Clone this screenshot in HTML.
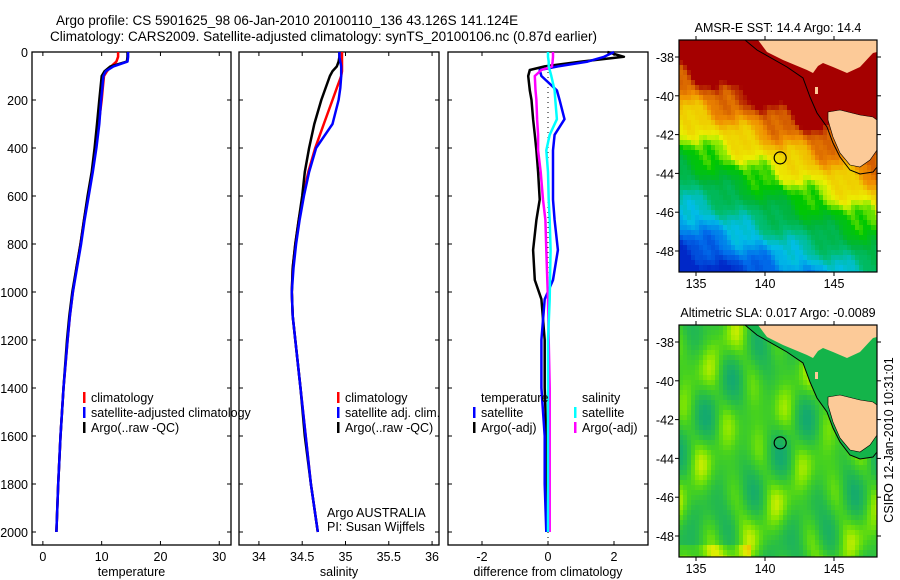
<!DOCTYPE html>
<html><head><meta charset="utf-8"><style>
html,body{margin:0;padding:0;background:#fff;}
svg{display:block;font-family:"Liberation Sans",sans-serif;}
</style></head><body>
<svg id="fig" width="900" height="580" viewBox="0 0 900 580" xmlns="http://www.w3.org/2000/svg">
<text x="56" y="25" font-size="13.5">Argo profile: CS 5901625_98 06-Jan-2010 20100110_136 43.126S 141.124E</text>
<text x="50" y="41" font-size="13.5">Climatology: CARS2009. Satellite-adjusted climatology: synTS_20100106.nc (0.87d earlier)</text>
<g id="plots"></g>
<g id="maps"></g>
<text transform="translate(893,440) rotate(-90)" text-anchor="middle" font-size="12.5">CSIRO 12-Jan-2010 10:31:01</text>
</svg>
<script>
// ---- data ----
const depths = [0,20,40,60,80,100,150,200,300,400,500,600,700,800,900,1000,1100,1200,1400,1600,1800,2000];
const tempArgo = [14.4,14.4,14.3,11.5,10.5,10.0,9.8,9.6,9.2,8.8,8.3,7.6,7.0,6.4,5.7,5.0,4.5,4.1,3.5,3.0,2.6,2.3];
const tempSat  = [14.5,14.5,14.4,12.0,10.7,10.3,10.1,9.9,9.6,9.1,8.5,7.8,7.1,6.5,5.8,5.1,4.6,4.2,3.5,3.0,2.6,2.3];
const tempClim = [12.8,12.8,12.5,11.6,10.9,10.4,10.2,10.0,9.5,9.0,8.4,7.7,7.0,6.4,5.7,5.1,4.6,4.2,3.5,3.0,2.6,2.3];
const salArgo = [34.93,34.93,34.92,34.9,34.85,34.82,34.77,34.72,34.64,34.58,34.53,34.5,34.46,34.42,34.39,34.38,34.39,34.42,34.48,34.53,34.6,34.68];
const salSat  = [34.93,34.93,34.94,34.95,34.95,34.95,34.94,34.92,34.85,34.66,34.58,34.52,34.47,34.43,34.4,34.38,34.39,34.42,34.48,34.54,34.6,34.68];
const salClim = [34.96,34.96,34.96,34.96,34.96,34.95,34.9,34.85,34.75,34.65,34.57,34.51,34.46,34.42,34.39,34.38,34.39,34.42,34.48,34.54,34.6,34.68];
const dDepths = [0,20,40,60,75,100,160,200,280,345,410,500,615,700,825,950,1030,1200,1400,1600,1800,2000];
const dTempSat  = [2.0,1.7,1.2,0.3,-0.25,-0.2,0.27,0.35,0.5,0.2,0.15,0.15,0.15,0.2,0.3,0.15,-0.1,-0.2,-0.2,-0.1,-0.1,-0.05];
const dTempArgo = [1.8,2.3,1.0,-0.1,-0.55,-0.6,-0.55,-0.5,-0.45,-0.4,-0.35,-0.3,-0.25,-0.35,-0.45,-0.4,-0.2,-0.1,-0.1,-0.05,-0.05,0.0];
const dSalSat   = [0.0,0.0,0.02,0.02,0.05,0.1,0.2,0.22,0.27,0.05,-0.05,0.0,0.02,0.05,0.08,0.06,0.05,0.0,0.0,0.0,0.0,0.0];
const dSalArgo  = [0.15,0.15,0.14,0.12,-0.2,-0.4,-0.38,-0.35,-0.33,-0.3,-0.3,-0.22,-0.15,-0.08,-0.05,-0.02,0.0,0.02,0.05,0.05,0.05,0.05];
const depthTicks = [0,200,400,600,800,1000,1200,1400,1600,1800,2000];
const tempTicks = [0,10,20,30];
const salTicks = [34,34.5,35,35.5,36];
const diffTicks = [-2,0,2];

const NS="http://www.w3.org/2000/svg";
function mk(tag,attrs,parent){const e=document.createElementNS(NS,tag);for(const k in attrs)e.setAttribute(k,attrs[k]);parent.appendChild(e);return e;}
const plots=document.getElementById('plots');
const yTop=52, yBot=545;
const y=d=>52+d*0.24;

const panels=[
 {name:'temperature-panel',x0:32,x1:231,vmin:-1.85,vmax:32.0,ticks:tempTicks,label:'temperature'},
 {name:'salinity-panel',x0:239,x1:439,vmin:33.77,vmax:36.08,ticks:salTicks,label:'salinity'},
 {name:'difference-panel',x0:448,x1:648,vmin:-3.03,vmax:3.03,ticks:diffTicks,label:'difference from climatology'}
];
panels.forEach((p,i)=>{
  p.sx=v=>p.x0+(v-p.vmin)/(p.vmax-p.vmin)*(p.x1-p.x0);
  const g=mk('g',{},plots);
  
  
  const r=mk('rect',{x:p.x0,y:yTop,width:p.x1-p.x0,height:yBot-yTop,fill:'none',stroke:'#000','stroke-width':1.3},g);
  
  
  depthTicks.forEach(d=>{
    mk('line',{x1:p.x0,x2:p.x0+4,y1:y(d),y2:y(d),stroke:'#000'},g);
    mk('line',{x1:p.x1-4,x2:p.x1,y1:y(d),y2:y(d),stroke:'#000'},g);
    if(i===0){const t=mk('text',{x:28,y:y(d)+5,'font-size':12.5,'text-anchor':'end'},g);t.textContent=d;
      
      }
  });
  p.ticks.forEach(v=>{
    const x=p.sx(v);
    mk('line',{x1:x,x2:x,y1:yBot-4,y2:yBot,stroke:'#000'},g);
    mk('line',{x1:x,x2:x,y1:yTop,y2:yTop+4,stroke:'#000'},g);
    const t=mk('text',{x:x,y:561,'font-size':12.5,'text-anchor':'middle'},g);t.textContent=v;
    
    
  });
  const xl=mk('text',{x:(p.x0+p.x1)/2,y:576,'font-size':12.5,'text-anchor':'middle'},g);xl.textContent=p.label;
  
  
});
function line(p,ds,vals,color,name,w){
  const pts=ds.map((d,k)=>p.sx(vals[k]).toFixed(1)+','+y(d).toFixed(1)).join(' ');
  const l=mk('polyline',{points:pts,fill:'none',stroke:color,'stroke-width':w||2.5,'stroke-linejoin':'round'},plots);
  
  
}
const [P1,P2,P3]=panels;
line(P1,depths,tempClim,'#f00','temp-climatology-line');
line(P1,depths,tempArgo,'#000','temp-argo-line');
line(P1,depths,tempSat,'#00f','temp-satellite-line');
line(P2,depths,salClim,'#f00','sal-climatology-line');
line(P2,depths,salArgo,'#000','sal-argo-line');
line(P2,depths,salSat,'#00f','sal-satellite-line');
const z=mk('line',{x1:P3.sx(0),x2:P3.sx(0),y1:yTop,y2:yBot,stroke:'#000','stroke-dasharray':'1,4'},plots);


line(P3,dDepths,dTempArgo,'#000','diff-temp-argo-line');
line(P3,dDepths,dTempSat,'#00f','diff-temp-satellite-line');
line(P3,dDepths,dSalArgo,'#f0f','diff-sal-argo-line');
line(P3,dDepths,dSalSat,'#0ff','diff-sal-satellite-line');

function legend(x,yy,color,label,name){
  const g=mk('g',{},plots);
  
  
  if(color) mk('rect',{x:x,y:yy-10,width:2.5,height:11,fill:color},g);
  const t=mk('text',{x:x+8,y:yy,'font-size':12.5},g);t.textContent=label;
}
legend(83,402,'#f00','climatology','legend-climatology');
legend(83,417,'#00f','satellite-adjusted climatology','legend-satellite');
legend(83,432,'#000','Argo(..raw -QC)','legend-argo');
legend(337,402,'#f00','climatology','legend-climatology-sal');
legend(337,417,'#00f','satellite adj. clim.','legend-satellite-sal');
legend(337,432,'#000','Argo(..raw -QC)','legend-argo-sal');
legend(473,402,null,'temperature','legend-temperature-header');
legend(473,417,'#00f','satellite','legend-temp-satellite');
legend(473,432,'#000','Argo(-adj)','legend-temp-argo');
legend(574,402,null,'salinity','legend-salinity-header');
legend(574,417,'#0ff','satellite','legend-sal-satellite');
legend(574,432,'#f0f','Argo(-adj)','legend-sal-argo');
const a1=mk('text',{x:327,y:517,'font-size':12.5},plots);a1.textContent='Argo AUSTRALIA';


const a2=mk('text',{x:327,y:531,'font-size':12.5},plots);a2.textContent='PI: Susan Wijffels';



// ---- maps ----
const maps=document.getElementById('maps');
const lonPx=lon=>696+(lon-135)*13.8;
const latPx=lat=>57+(-38-lat)*19.4;
const land1="750,40 758,40 767,52 783,60 807,70 813,73 818,66 823,63 833,67 847,73 860,67 873,53 877,52 877,40";
const tas="828,112 840,110 860,115 873,117 877,120 877,150 870,160 860,167 850,165 840,153 833,137 828,120";
const contour="745,40 757,50 787,67 803,78 810,97 817,113 827,127 833,143 840,157 850,170 860,174 873,172 877,167";
function hex(c){return '#'+c.map(v=>Math.round(v).toString(16).padStart(2,'0')).join('');}
function cmap(stops,v){
  if(v<=stops[0][0])return hex(stops[0][1]);
  for(let i=1;i<stops.length;i++){if(v<=stops[i][0]){const a=stops[i-1],b=stops[i],t=(v-a[0])/(b[0]-a[0]);return hex(a[1].map((c,k)=>c+(b[1][k]-c)*t));}}
  return hex(stops[stops.length-1][1]);
}
const sstStops=[[0,[0,40,200]],[1.2,[0,110,235]],[2.4,[0,190,230]],[3.4,[0,190,120]],[4.4,[0,180,60]],[5.5,[0,200,0]],[6.1,[150,235,0]],[6.5,[235,240,0]],[7.5,[240,200,0]],[8.3,[240,140,0]],[9,[210,90,0]],[9.6,[165,0,0]]];
const slaStops=[[-1,[20,170,110]],[-0.3,[40,190,70]],[0.2,[70,210,30]],[0.6,[130,230,0]],[1.0,[220,240,0]],[1.5,[245,180,0]]];
function drawMap(oy,title,kind,name){
  const g=mk('g',{transform:'translate(0,'+oy+')'},maps);
  
  
  const cl=mk('clipPath',{id:'clip'+kind},g);mk('rect',{x:679,y:40,width:198,height:232},cl);
  const cells=mk('g',{'clip-path':'url(#clip'+kind+')'},g);
  for(let px=679;px<877;px+=4){for(let py=40;py<272;py+=5){
    const lon=135+(px+2-696)/13.8, lat=-38-(py+2.5-57)/19.4;
    let c;
    if(kind==='sst'){
      const v=lat+48.5+0.3*(lon-135)+0.3*Math.sin(lon*2.1+lat*1.3)+0.25*Math.sin(lon*0.9-lat*2.7)+0.15*Math.sin(lon*5.3+lat*4.1);
      c=cmap(sstStops,v);
    }else{
      const s=0.45*Math.sin(lon*1.7+0.3)*Math.cos(lat*1.5)+0.35*Math.sin(lon*0.8-lat*1.1+1)+0.3*Math.cos(lon*2.6+lat*0.7)+((lat<-48.4&&lon<139)?0.5:0);
      c=cmap(slaStops,s);
    }
    mk('rect',{x:px,y:py,width:4,height:5,fill:c},cells);
  }}
  if(kind==='sla'){mk('polygon',{points:contour+" 877,40",fill:'#14b44a'},cells);}
  const l1=mk('polygon',{points:land1,fill:'#fcca98'},g);
  
  
  const l2=mk('polygon',{points:tas,fill:'#fcca98'},g);
  
  
  mk('rect',{x:815,y:87,width:3,height:7,fill:'#fcca98'},g);
  mk('polyline',{points:contour,fill:'none',stroke:'#000','stroke-width':1},g);
  mk('polygon',{points:tas,fill:'none',stroke:'#000','stroke-width':0.6},g);
  const c=mk('circle',{cx:lonPx(141.1),cy:latPx(-43.2),r:6,fill:'none',stroke:'#000','stroke-width':1.2},g);
  
  
  mk('rect',{x:679,y:40,width:198,height:232,fill:'none',stroke:'#000','stroke-width':1.2},g);
  [-38,-40,-42,-44,-46,-48].forEach(la=>{
    const yy=latPx(la);
    mk('line',{x1:679,x2:675,y1:yy,y2:yy,stroke:'#000'},g);
    mk('line',{x1:877,x2:881,y1:yy,y2:yy,stroke:'#000'},g);
    const t=mk('text',{x:674,y:yy+5,'font-size':12.5,'text-anchor':'end'},g);t.textContent=la;
    
    
  });
  [135,140,145].forEach(lo=>{
    const xx=lonPx(lo);
    mk('line',{x1:xx,x2:xx,y1:272,y2:276,stroke:'#000'},g);
    mk('line',{x1:xx,x2:xx,y1:40,y2:36,stroke:'#000'},g);
    const t=mk('text',{x:xx,y:288,'font-size':12.5,'text-anchor':'middle'},g);t.textContent=lo;
    
    
  });
  const tt=mk('text',{x:778,y:32,'font-size':12.5,'text-anchor':'middle'},g);tt.textContent=title;
  
  
}
drawMap(0,'AMSR-E SST: 14.4 Argo: 14.4','sst','sst-map');
drawMap(285,'Altimetric SLA: 0.017 Argo: -0.0089','sla','sla-map');
</script>
</body></html>
